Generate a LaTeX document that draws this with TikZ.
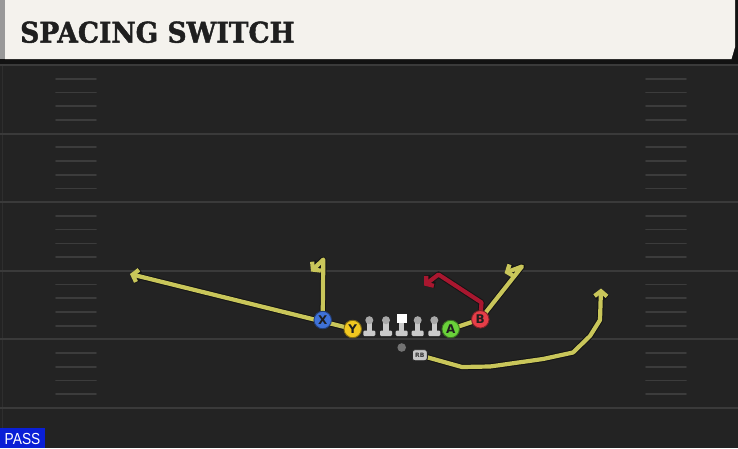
\documentclass[tikz,border=0pt]{standalone}
\usepackage{fontspec}
\setmainfont{DejaVu Sans}
\newfontfamily\titlefont[BoldFeatures={FakeBold=1.6}]{DejaVu Serif}
\newfontfamily\passfont{Liberation Sans}
\usetikzlibrary{arrows.meta}
\definecolor{fieldc}{HTML}{232323}
\definecolor{yardc}{HTML}{3A3A3A}
\definecolor{hashc}{HTML}{3C3C3C}
\definecolor{bannerc}{HTML}{F4F2ED}
\definecolor{routec}{HTML}{C9C65A}
\definecolor{blockc}{HTML}{A8172F}
\definecolor{xblue}{HTML}{3F72D8}
\definecolor{yyellow}{HTML}{F2C820}
\definecolor{agreen}{HTML}{6AD23A}
\definecolor{bred}{HTML}{E63E48}
\definecolor{passblue}{HTML}{0A1FD6}
\definecolor{linec}{HTML}{CACACA}
\definecolor{helmc}{HTML}{A8A8A8}
\newcommand\myroute[2][routec]{%
  \draw[routeedge] #2;
  \draw[routeline,draw=#1] #2;}
\begin{document}
\begin{tikzpicture}[x=1pt,y=-1pt,
  routeline/.style={line width=4.2pt, line join=round, line cap=butt,
     -{Straight Barb[length=5pt,width=12.5pt]}},
  routeedge/.style={draw=black!92, line width=6.2pt, line join=round, line cap=butt,
     -{Straight Barb[length=5pt,width=12.5pt]}},
  player/.style={circle, minimum size=17.5pt, inner sep=0pt, line width=0.9pt,
     font=\bfseries\fontsize{12}{12}\selectfont, text=black!88},
  yardline/.style={draw=yardc, line width=2pt},
  hashmark/.style={draw=hashc, line width=1.7pt, line cap=round},
  lman/.pic={
     \fill[linec, rounded corners=1.2pt] (-6,-5.5) rectangle (6,0);
     \fill[linec] (-2.6,-14) rectangle (2.6,-4);
     \fill[helmc] (0,-15.8) circle (4);},
  cman/.pic={
     \fill[linec, rounded corners=1.2pt] (-6,-5.5) rectangle (6,0);
     \fill[linec] (-2.6,-14) rectangle (2.6,-4);
     \fill[white] (-4.8,-22.5) rectangle (4.8,-13.2);},
]
\useasboundingbox (0,0) rectangle (738,448);
% background
\fill[fieldc] (0,0) rectangle (738,448);
\fill[black!93] (0,0) rectangle (738,64);
\fill[bannerc] (5,0) -- (735,0) -- (735,47) -- (731.5,59) -- (5,59) -- cycle;
\fill[black!40] (0,0) rectangle (5,59);
\draw[black!82, line width=1pt] (2,64) -- (2,448);
% yard lines and hash marks
\foreach \k in {0,...,5} {
  \draw[yardline] (0,65+68.6*\k) -- (738,65+68.6*\k);
}
\foreach \k in {0,...,4} {
  \foreach \f in {1,2,3,4} {
    \draw[hashmark] (56,65+68.6*\k+13.72*\f) -- (96,65+68.6*\k+13.72*\f);
    \draw[hashmark] (646,65+68.6*\k+13.72*\f) -- (686,65+68.6*\k+13.72*\f);
  }
}
% title
\node[anchor=base west, inner sep=0pt, text=black!88] (title) at (20,42.6)
  {\scalebox{0.93}[1]{\titlefont\bfseries\fontsize{28.5}{28.5}\selectfont SPACING SWITCH}};
% pass label
\fill[passblue] (0,427.5) rectangle (45,448);
\node[anchor=base west, inner sep=0pt, text=white] (pass) at (4.5,444.3)
  {\passfont\fontsize{16}{16}\selectfont\scalebox{0.86}[1]{PASS}};
% player positions
\coordinate (Xc) at (322.7,320);
\coordinate (Yc) at (352.7,329);
\coordinate (Ac) at (450.7,329);
\coordinate (Bc) at (480.3,319.3);
\coordinate (RBc) at (419.8,355.2);
% route waypoints
\coordinate (yEnd) at (130,274);
\coordinate (xTop) at (323.3,259.5);
\coordinate (xEnd) at (311,271.5);
\coordinate (aTop) at (522,266.5);
\coordinate (aEnd) at (504.5,273);
\coordinate (bUp) at (481.5,302.5);
\coordinate (bMid) at (438.5,274.5);
\coordinate (bEnd) at (424,285.5);
\coordinate (r1) at (462,367);
\coordinate (r2) at (490,366.5);
\coordinate (r3) at (543,359);
\coordinate (r4) at (573,352.5);
\coordinate (r5) at (590,336);
\coordinate (r6) at (600,320);
\coordinate (rEnd) at (601,288.5);
% routes
\myroute{(Yc) -- (yEnd)}
\myroute{(Xc) -- (xTop) -- (xEnd)}
\myroute{(Ac) -- (Bc) -- (aTop) -- (aEnd)}
\myroute{(RBc) -- (r1) -- (r2) -- (r3) -- (r4) -- (r5) -- (r6) -- (rEnd)}
\myroute[blockc]{(Bc) -- (bUp) -- (bMid) -- (bEnd)}
% offensive line
\pic (LT) at (369.3,336) {lman};
\pic (LG) at (386,336) {lman};
\pic (C) at (401.7,336) {cman};
\pic (RG) at (417.7,336) {lman};
\pic (RT) at (434.3,336) {lman};
% quarterback
\node[circle, inner sep=0pt, minimum size=8.6pt, fill=black!55] (QB) at (401.7,347.5) {};
% skill players
\node[player, fill=xblue, draw=xblue!55!black] (X) at (Xc) {X};
\node[player, fill=yyellow, draw=yyellow!55!black] (Y) at (Yc) {Y};
\node[player, fill=agreen, draw=agreen!55!black] (A) at (Ac) {A};
\node[player, fill=bred, draw=bred!55!black] (B) at (Bc) {B};
\node[rounded corners=2.5pt, fill=black!22, draw=black!85, line width=0.9pt,
      minimum width=15pt, minimum height=11pt, inner sep=0pt,
      font=\bfseries\fontsize{6}{6}\selectfont, text=black!80] (RB) at (RBc) {RB};
\end{tikzpicture}
\end{document}
